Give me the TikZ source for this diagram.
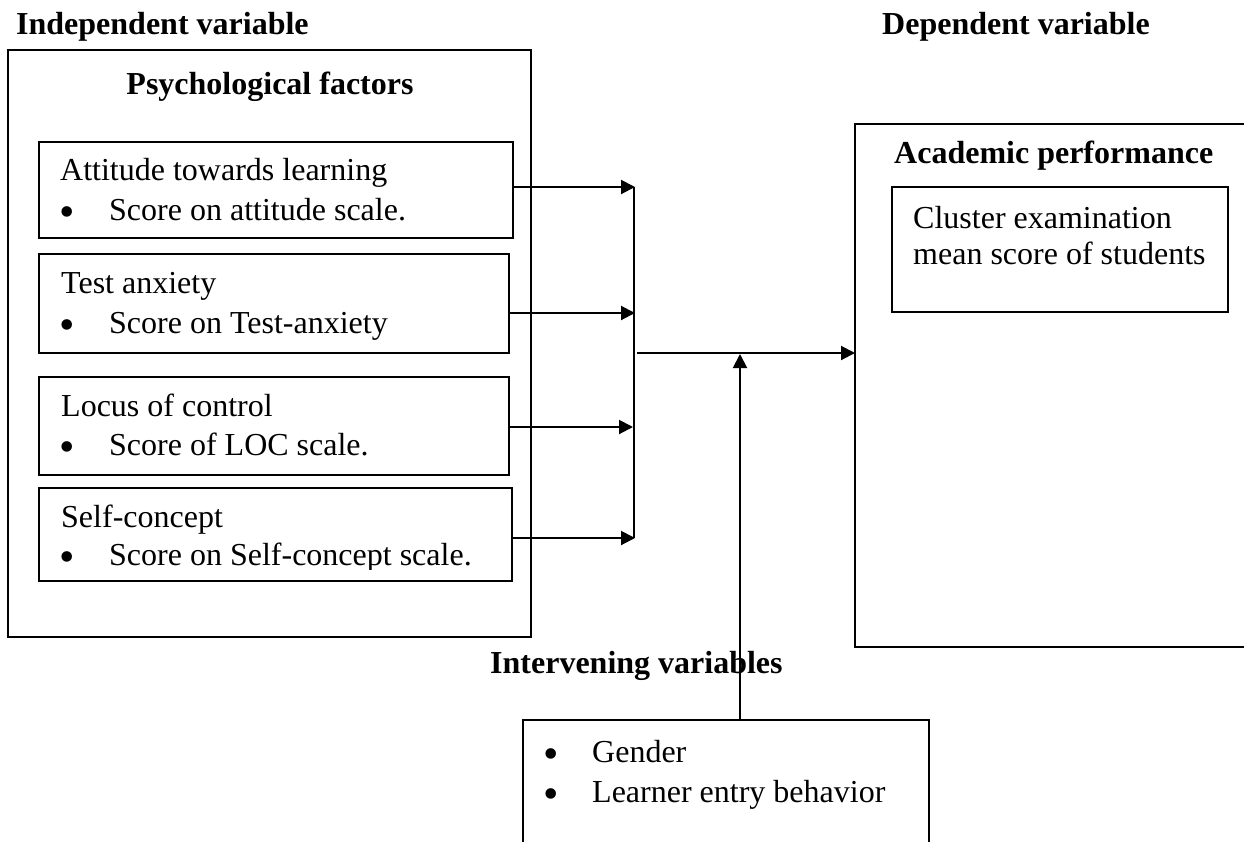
\documentclass[tikz,border=0pt]{standalone}
\usepackage{fontspec}
\setmainfont{Liberation Serif}
\usetikzlibrary{arrows.meta}
\begin{document}
\begin{tikzpicture}[x=1pt,y=-1pt,
  box/.style={draw,line width=2pt,anchor=north west,inner sep=0pt,outer sep=0pt},
  txt/.style={anchor=base west,inner sep=0pt,font=\fontsize{32}{38}\selectfont},
  hd/.style={anchor=base west,inner sep=0pt,font=\fontsize{32}{38}\selectfont\bfseries},
  bul/.style={anchor=base,inner sep=0pt,yshift=-6pt,font=\fontsize{44}{44}\selectfont},
  conn/.style={line width=2pt},
  arr/.style={line width=2pt,-{Triangle[length=14pt,width=14pt]}}]
\clip (0,0) rectangle (1244,841);
\fill[white] (0,0) rectangle (1244,841);
% boxes
\node[box,minimum width=523pt,minimum height=587pt] (outer) at (8,50) {};
\node[box,minimum width=474pt,minimum height=96pt] (b1) at (39,142) {};
\node[box,minimum width=470pt,minimum height=99pt] (b2) at (39,254) {};
\node[box,minimum width=470pt,minimum height=98pt] (b3) at (39,377) {};
\node[box,minimum width=473pt,minimum height=93pt] (b4) at (39,488) {};
\node[box,minimum width=420pt,minimum height=523pt] (ap) at (855,124) {};
\node[box,minimum width=336pt,minimum height=125pt] (ce) at (892,187) {};
\node[box,minimum width=406pt,minimum height=150pt] (iv) at (523,720) {};
% headings
\node[hd] (tind) at (16,34) {Independent variable};
\node[hd] (tdep) at (882,34) {Dependent variable};
\node[hd,anchor=base] (tpsy) at (270,94) {Psychological factors};
\node[hd] (tap) at (894,163) {Academic performance};
\node[hd] (tiv) at (490,673) {Intervening variables};
% left boxes text
\node[txt] (t1a) at (60,180) {Attitude towards learning};
\node[bul] (k1) at (67,220) {•};
\node[txt] (t1b) at (109,220) {Score on attitude scale.};
\node[txt] (t2a) at (61,293) {Test anxiety};
\node[bul] (k2) at (67,333) {•};
\node[txt] (t2b) at (109,333) {Score on Test-anxiety};
\node[txt] (t3a) at (61,416) {Locus of control};
\node[bul] (k3) at (67,455) {•};
\node[txt] (t3b) at (109,455) {Score of LOC scale.};
\node[txt] (t4a) at (61,527) {Self-concept};
\node[bul] (k4) at (67,565) {•};
\begin{scope}
\clip (39,488) rectangle (512,569);
\node[txt] (t4b) at (109,565) {Score on Self-concept scale.};
\end{scope}
% right box text
\node[txt] (tc1) at (913,228) {Cluster examination};
\node[txt] (tc2) at (913,264) {mean score of students};
% intervening text
\node[bul] (k5) at (551,762) {•};
\node[txt] (tg) at (592,762) {Gender};
\node[bul] (k6) at (551,802) {•};
\node[txt] (tl) at (592,802) {Learner entry behavior};
% connectors
\coordinate (c1) at (635,187);
\coordinate (c2) at (635,313);
\coordinate (c3) at (633,427);
\coordinate (c4) at (635,538);
\coordinate (ctop) at (634,187);
\coordinate (cbot) at (634,538);
\coordinate (m0) at (637,353);
\coordinate (up) at (740,354);
\draw[arr] (b1.east |- c1) -- (c1);
\draw[arr] (b2.east |- c2) -- (c2);
\draw[arr] (b3.east |- c3) -- (c3);
\draw[arr] (b4.east |- c4) -- (c4);
\draw[conn] (ctop) -- (cbot);
\draw[arr] (m0) -- (ap.west |- m0);
\draw[arr] (iv.north -| up) -- (up);
\end{tikzpicture}
\end{document}
